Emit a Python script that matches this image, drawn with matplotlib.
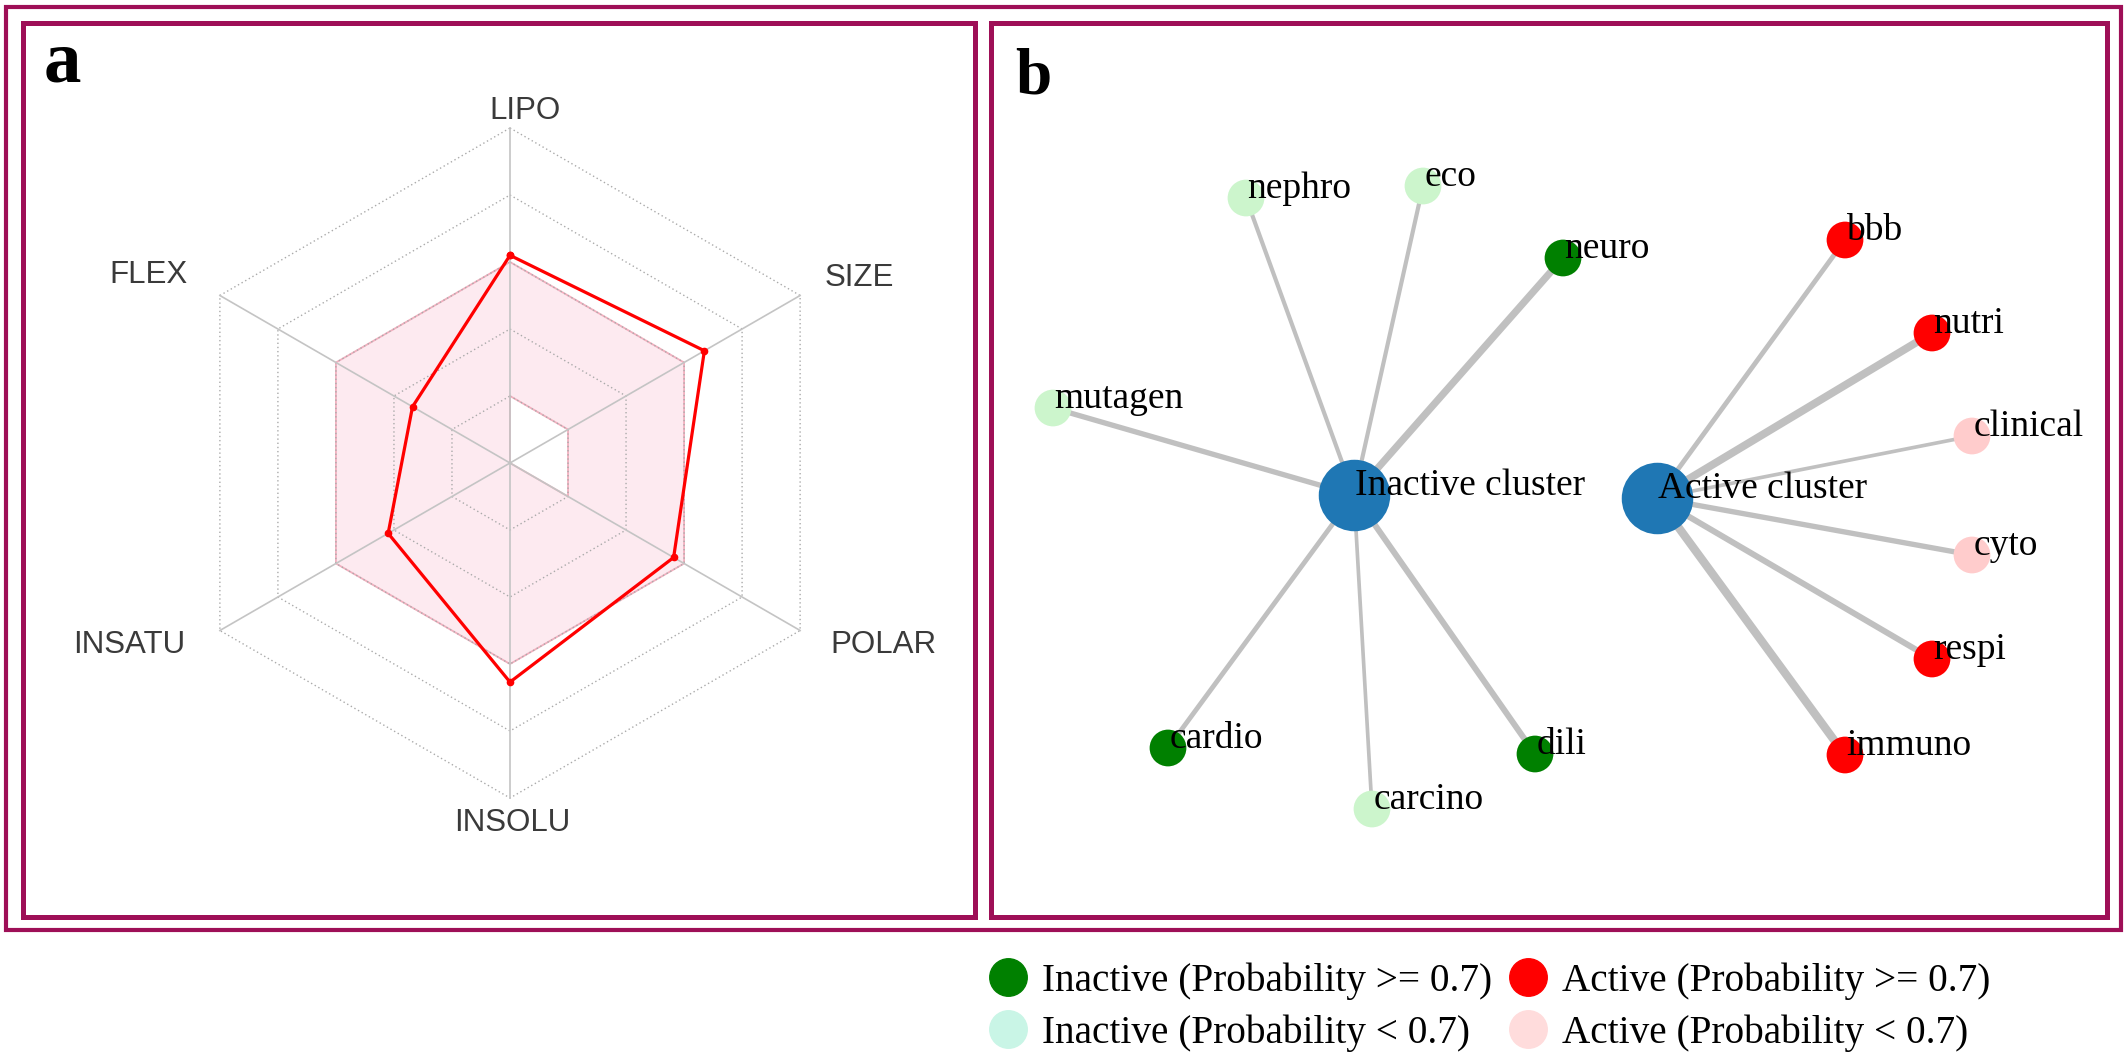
import numpy as np
import matplotlib.pyplot as plt
from matplotlib.patches import Rectangle, PathPatch
from matplotlib.path import Path
from matplotlib.lines import Line2D

W, H = 2128, 1054
fig = plt.figure(figsize=(W / 100, H / 100), dpi=100)

# ---------------- data ----------------
# panel a : radar
props = ["LIPO", "SIZE", "POLAR", "INSOLU", "INSATU", "FLEX"]
angles = np.deg2rad([90, 30, -30, -90, 210, 150])
compound = [3.1, 3.35, 2.82, 3.27, 2.1, 1.68]
upper = [3, 3, 3, 3, 3, 3]
lower = [1, 1, 1, 0, 0, 0]
rings = [1, 2, 3, 4, 5]
label_pos = [(0.22, 5.25), (5.21, 2.76), (5.57, -2.72),
             (0.04, -5.37), (-5.69, -2.72), (-5.39, 2.81)]

# panel b : network
hubs = ["Inactive cluster", "Active cluster"]
hub_x = [-1.46, 1.57]
hub_y = [0.05, 0.02]
leaves = ["nephro", "eco", "neuro", "mutagen", "cardio", "carcino", "dili",
          "bbb", "nutri", "clinical", "cyto", "respi", "immuno"]
leaf_x = [-2.54, -0.77, 0.63, -4.47, -3.32, -1.28, 0.35,
          3.45, 4.32, 4.72, 4.72, 4.32, 3.45]
leaf_y = [3.02, 3.14, 2.42, 0.92, -2.48, -3.09, -2.54,
          2.60, 1.67, 0.64, -0.55, -1.59, -2.55]
leaf_hub = [0, 0, 0, 0, 0, 0, 0, 1, 1, 1, 1, 1, 1]
leaf_class = ["inact_low", "inact_low", "inact_high", "inact_low", "inact_high",
              "inact_low", "inact_high", "act_high", "act_high", "act_low",
              "act_low", "act_high", "act_high"]
edge_weight = [0.5, 0.5, 0.86, 0.64, 0.58, 0.44, 0.72,
               0.58, 0.94, 0.44, 0.64, 0.72, 1.0]

legend_labels = ["Inactive (Probability >= 0.7)", "Inactive (Probability < 0.7)",
                 "Active (Probability >= 0.7)", "Active (Probability < 0.7)"]

node_colors = {"inact_high": "#008000", "inact_low": "#ccf5cc",
               "act_high": "#ff0000", "act_low": "#ffcccc"}
legend_colors = ["#008000", "#c9f5e6", "#ff0000", "#ffdcdc"]
frame_col = "#9e0f57"


def px(x0, y0, x1, y1):
    # pixel box (top-left origin) -> figure fraction rect
    return [x0 / W, 1 - y1 / H, (x1 - x0) / W, (y1 - y0) / H]


# ---------------- frames ----------------
for (x0, y0, x1, y1, lw) in [(6, 7, 2121, 930, 3.0),
                             (23, 23, 975, 917, 3.6),
                             (991, 23, 2107, 917, 3.6)]:
    fig.patches.append(Rectangle((x0 / W, 1 - y1 / H), (x1 - x0) / W, (y1 - y0) / H,
                                 transform=fig.transFigure, fill=False,
                                 ec=frame_col, lw=lw, zorder=5))

# ---------------- panel a : radar ----------------
axa = fig.add_axes(px(23, 23, 975, 917))
axa.set_xlim((23 - 510) / 67, (975 - 510) / 67)
axa.set_ylim((463 - 917) / 67, (463 - 23) / 67)
axa.axis("off")

ca, sa = np.cos(angles), np.sin(angles)


def closed(v):
    v = np.asarray(v, float)
    x, y = v * ca, v * sa
    return np.append(x, x[0]), np.append(y, y[0])


ox, oy = closed(upper)
ix, iy = closed(lower)
verts = list(zip(ox, oy)) + list(zip(ix[::-1], iy[::-1]))
codes = ([Path.MOVETO] + [Path.LINETO] * (len(ox) - 2) + [Path.CLOSEPOLY]) * 2
band = PathPatch(Path(verts, codes), fc="#fdeaf0", ec="none", zorder=1)
axa.add_patch(band)
axa.plot(ox, oy, color="#f2b0bf", lw=1.3, zorder=1.5)
axa.plot(ix, iy, color="#f2b0bf", lw=1.3, zorder=1.5)

for r in rings:
    gx, gy = closed([r] * 6)
    axa.plot(gx, gy, color="#aaaaaa", lw=1.0, ls=(0, (1, 2)), zorder=2)
for c, s in zip(ca, sa):
    axa.plot([0, 5 * c], [0, 5 * s], color="#c4c4c4", lw=1.2, zorder=2)

cx, cy = closed(compound)
axa.plot(cx, cy, color="#ff0000", lw=2.3, marker="o", ms=4.5, zorder=3)

for name, (tx, ty) in zip(props, label_pos):
    axa.text(tx, ty, name, ha="center", va="center", fontsize=22.5,
             family="Liberation Sans", color="#3a3a3a")

# ---------------- panel b : network ----------------
axb = fig.add_axes(px(991, 23, 2107, 917))
axb.set_xlim((991 - 1500) / 100, (2107 - 1500) / 100)
axb.set_ylim((500 - 917) / 100, (500 - 23) / 100)
axb.axis("off")

for x, y, h, w in zip(leaf_x, leaf_y, leaf_hub, edge_weight):
    axb.plot([hub_x[h], x], [hub_y[h], y], color="#c0c0c0", lw=6 * w,
             solid_capstyle="butt", zorder=1)

axb.scatter(leaf_x, leaf_y, s=700, c=[node_colors[k] for k in leaf_class],
            linewidths=0, zorder=2)
axb.scatter(hub_x, hub_y, s=2650, c="#1f77b4", linewidths=0, zorder=2)

for name, x, y in list(zip(hubs, hub_x, hub_y)) + list(zip(leaves, leaf_x, leaf_y)):
    axb.annotate(name, (x, y), xytext=(1, 7), textcoords="offset points",
                 ha="left", va="center", fontsize=27, family="Liberation Serif",
                 color="black", zorder=3)

# panel letters
fig.text(44 / W, 1 - 82 / H, "a", fontsize=54, weight="bold",
         family="Liberation Serif", ha="left", va="baseline")
fig.text(1015 / W, 1 - 94 / H, "b", fontsize=47, weight="bold",
         family="Liberation Serif", ha="left", va="baseline")

# ---------------- legend ----------------
handles = [Line2D([], [], ls="none", marker="o", ms=27, mfc=c, mec=c)
           for c in legend_colors]
fig.legend(handles, legend_labels, ncol=2, loc="upper left",
           bbox_to_anchor=(988 / W, 1 - 962 / H), frameon=False,
           prop={"family": "Liberation Serif", "size": 28.3},
           handlelength=1.0, handletextpad=0.37, columnspacing=0.42,
           labelspacing=0.38, borderpad=0, borderaxespad=0)

fig.savefig("out.png", dpi=100)
